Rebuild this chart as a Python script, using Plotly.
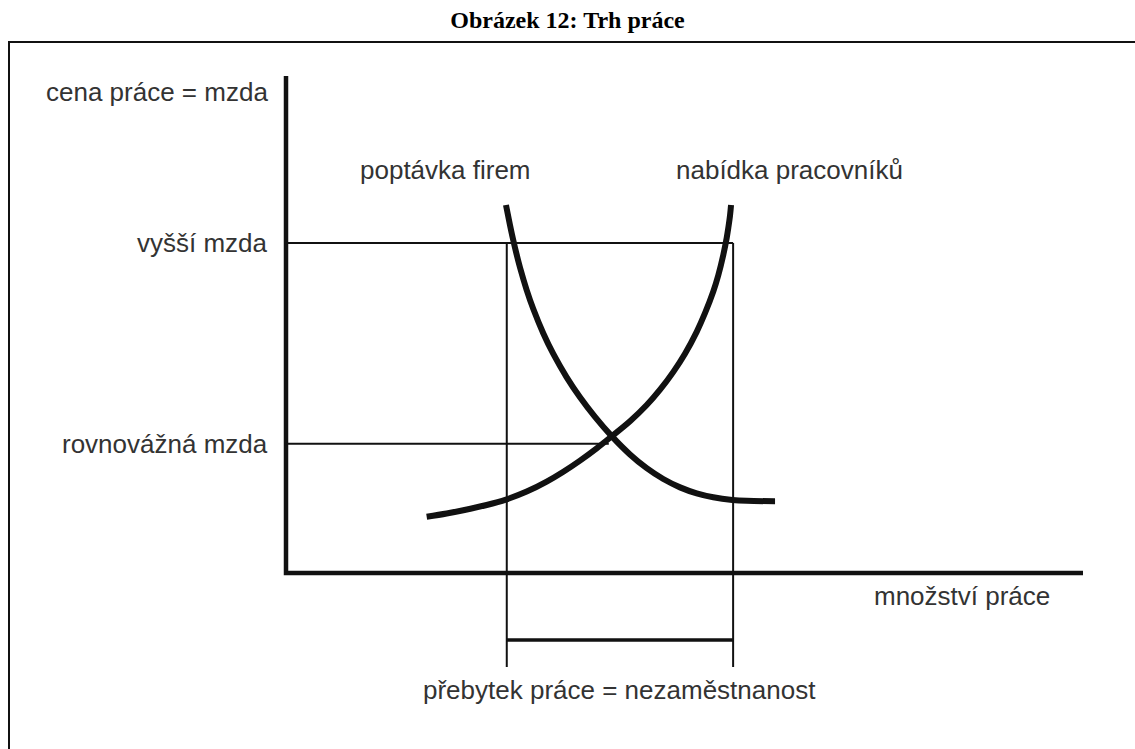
import plotly.graph_objects as go

# data in abstract units: quantity of labour (x) and wage (y)
axis_len_q = 10.0
axis_len_w = 10.0

wage_high = 6.64          # "vyšší mzda"
wage_eq = 2.60            # "rovnovážná mzda"
q_eq = 4.05               # where the equilibrium wage line stops
q_demand_high = 2.77      # labour demanded at the higher wage
q_supply_high = 5.61      # labour supplied at the higher wage
bracket_w = -1.35         # level of the unemployment bracket
bracket_bottom = -1.89    # lower end of the guide lines

demand_q = [2.760, 2.811, 2.852, 2.894, 2.936, 3.020, 3.103, 3.229, 3.354, 3.522, 3.689,
            3.877, 4.086, 4.316, 4.526, 4.734, 4.944, 5.153, 5.361, 5.600, 5.780, 6.136]
demand_w = [7.404, 6.996, 6.693, 6.407, 6.147, 5.693, 5.311, 4.820, 4.407, 3.937, 3.536,
            3.141, 2.754, 2.386, 2.109, 1.891, 1.723, 1.602, 1.523, 1.470, 1.452, 1.445]

supply_q = [1.765, 2.016, 2.225, 2.518, 2.760, 3.020, 3.271, 3.480, 3.689, 3.898, 4.086, 4.316,
            4.526, 4.693, 4.860, 5.006, 5.153, 5.257, 5.361, 5.424, 5.487, 5.529, 5.550, 5.571, 5.584]
supply_w = [1.133, 1.198, 1.263, 1.368, 1.477, 1.638, 1.839, 2.038, 2.262, 2.509, 2.750, 3.053,
            3.379, 3.688, 4.047, 4.412, 4.853, 5.227, 5.664, 5.992, 6.402, 6.738, 6.948, 7.190, 7.404]

# page geometry (pixels)
W, H = 1135, 749
ox, oy = 286, 573         # origin of the drawn axes
sx, sy = 79.7, 49.7       # pixels per unit

fig = go.Figure()

black = "#111111"

def line(xs, ys, width, shape="linear"):
    fig.add_trace(go.Scatter(x=xs, y=ys, mode="lines", hoverinfo="skip",
                             line=dict(color=black, width=width, shape=shape, smoothing=1.0)))

# axes
line([0, 0, axis_len_q], [axis_len_w, 0, 0], 4.5)

# guide lines
line([0, q_supply_high], [wage_high, wage_high], 2)
line([0, q_eq], [wage_eq, wage_eq], 2)
line([q_demand_high, q_demand_high], [wage_high, bracket_bottom], 2)
line([q_supply_high, q_supply_high], [wage_high, bracket_bottom], 2)
line([q_demand_high, q_supply_high], [bracket_w, bracket_w], 3.5)

# curves
line(demand_q, demand_w, 6, "spline")
line(supply_q, supply_w, 6, "spline")

lab = dict(family="Liberation Sans, Arial, sans-serif", size=26, color="#333333")

for text, w in [("cena práce = mzda", 9.68), ("vyšší mzda", wage_high), ("rovnovážná mzda", wage_eq)]:
    fig.add_annotation(x=0, y=w, text=text, showarrow=False, xanchor="right",
                       yanchor="middle", xshift=-16, font=lab)

fig.add_annotation(x=2.0, y=8.11, text="poptávka firem", showarrow=False, font=lab)
fig.add_annotation(x=6.32, y=8.11, text="nabídka pracovníků", showarrow=False, font=lab)
fig.add_annotation(x=8.48, y=-0.46, text="množství práce", showarrow=False, font=lab)
fig.add_annotation(x=4.19, y=-2.35, text="přebytek práce = nezaměstnanost", showarrow=False, font=lab)

# frame around the figure
fig.add_shape(type="rect", xref="paper", yref="paper",
              x0=9 / W, x1=1.02, y0=-0.02, y1=1 - 42 / H,
              line=dict(color=black, width=2))

fig.update_xaxes(visible=False, range=[(0 - ox) / sx, (W - ox) / sx])
fig.update_yaxes(visible=False, range=[(oy - H) / sy, oy / sy])

fig.update_layout(
    width=W, height=H,
    margin=dict(l=0, r=0, t=0, b=0),
    paper_bgcolor="white", plot_bgcolor="white",
    showlegend=False,
    title=dict(text="<b>Obrázek 12: Trh práce</b>", x=0.5, xanchor="center",
               y=1 - 20 / H, yanchor="middle",
               font=dict(family="Liberation Serif, Times New Roman, serif", size=24, color="black")),
)

# drop the browser's default page margin so the figure fills the window
fig.write_html("out.html", config={"displayModeBar": False},
               post_script="document.body.style.margin='0';document.body.style.overflow='hidden';")
